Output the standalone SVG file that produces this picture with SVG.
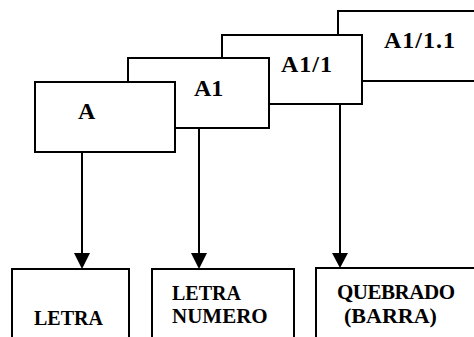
<svg xmlns="http://www.w3.org/2000/svg" width="474" height="337" viewBox="0 0 474 337">
<defs>
<style>
.box{fill:#fff;stroke:#000;stroke-width:2}
text{font-family:'Liberation Serif','DejaVu Serif',serif;font-weight:700;fill:#000}
.top{font-size:24px}
.bot{font-size:21px}
.con{stroke:#000;stroke-width:2;fill:none}
.head{fill:#000;stroke:none}
</style>
</defs>
<rect width="474" height="337" fill="#fff"/>
<g id="node-A1-1-1">
<rect class="box" x="338" y="11" width="150" height="70"/>
<text class="top" x="384" y="48" textLength="71" lengthAdjust="spacing">A1/1.1</text>
</g>
<g id="node-A1-1">
<rect class="box" x="222" y="35" width="140" height="69"/>
<text class="top" x="281" y="72" textLength="51" lengthAdjust="spacing">A1/1</text>
</g>
<g id="node-A1">
<rect class="box" x="128" y="58" width="141" height="70"/>
<text class="top" x="194" y="96">A1</text>
</g>
<g id="node-A">
<rect class="box" x="35" y="82" width="140" height="70"/>
<text class="top" x="78" y="119">A</text>
</g>
<g id="connectors">
<line class="con" x1="82" y1="152" x2="82" y2="256"/>
<polygon class="head" points="74,253 90,253 82,269"/>
<line class="con" x1="199" y1="128" x2="199" y2="256"/>
<polygon class="head" points="191,253 207,253 199,269"/>
<line class="con" x1="340" y1="104" x2="340" y2="256"/>
<polygon class="head" points="332,253 348,253 340,268"/>
</g>
<g id="node-letra">
<rect class="box" x="12" y="269" width="117" height="90"/>
<text class="bot" x="34" y="325" style="font-size:20px">LETRA</text>
</g>
<g id="node-letra-numero">
<rect class="box" x="152" y="269" width="142" height="90"/>
<text class="bot" x="172" y="300" style="font-size:20px">LETRA</text>
<text class="bot" x="172" y="323">NUMERO</text>
</g>
<g id="node-quebrado">
<rect class="box" x="316" y="268" width="170" height="90"/>
<text class="bot" x="337" y="299" textLength="118" lengthAdjust="spacing">QUEBRADO</text>
<text class="bot" x="344" y="323" style="font-size:22px">(BARRA)</text>
</g>
</svg>
